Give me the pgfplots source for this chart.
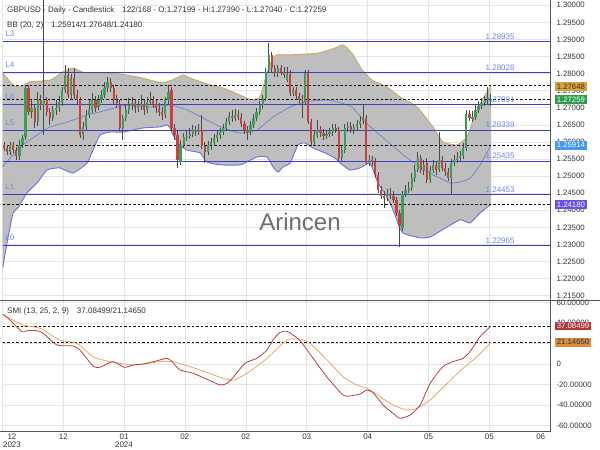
\documentclass[border=0pt]{standalone}
\usepackage{fontspec}
\setmainfont{Liberation Sans}
\usepackage{pgfplots}
\usepackage{pgfplotstable}
\usepgfplotslibrary{fillbetween}
\pgfplotsset{compat=1.18}

\definecolor{upc}{HTML}{3C9E55}
\definecolor{dnc}{HTML}{C9403F}
\definecolor{wickc}{HTML}{4A4A4A}
\definecolor{bbfill}{HTML}{BEBEBE}
\definecolor{bbup}{HTML}{C9A95E}
\definecolor{bblo}{HTML}{6F6FD6}
\definecolor{bbmid}{HTML}{6585C5}
\definecolor{lvl}{HTML}{3E3EC2}
\definecolor{lvltxt}{HTML}{6A88E8}
\definecolor{gridc}{HTML}{E4E4E4}
\definecolor{axc}{HTML}{555555}
\definecolor{smic}{HTML}{B5403F}
\definecolor{sigc}{HTML}{EDA465}
\definecolor{boxor}{HTML}{D6A23C}
\definecolor{boxgr}{HTML}{2E9E4E}
\definecolor{boxbl}{HTML}{3D9BF2}
\definecolor{boxpu}{HTML}{6A4FE8}
\definecolor{boxrd}{HTML}{B23838}
\definecolor{boxortwo}{HTML}{D98E3F}
\definecolor{txt}{HTML}{333333}
\definecolor{wm}{HTML}{6E6E6E}

\pgfplotstableread{
x o h l c
2.5 1.2571 1.2600 1.2562 1.2591
5.5 1.2559 1.2606 1.2547 1.2591
6.5 1.2591 1.2620 1.2582 1.2612
7.5 1.2615 1.2767 1.2606 1.2758
9.5 1.2688 1.2723 1.2670 1.2699
11.5 1.2658 1.2746 1.2647 1.2723
13.5 1.2708 1.3050 1.2620 1.2723
16.5 1.2670 1.2705 1.2661 1.2694
17.5 1.2694 1.2723 1.2679 1.2699
18.5 1.2699 1.2735 1.2688 1.2717
19.5 1.2717 1.2761 1.2705 1.2752
20.5 1.2752 1.2825 1.2743 1.2796
22.5 1.2737 1.2799 1.2723 1.2787
26.5 1.2620 1.2658 1.2606 1.2644
27.5 1.2644 1.2694 1.2635 1.2679
28.5 1.2679 1.2723 1.2670 1.2694
29.5 1.2694 1.2743 1.2685 1.2723
31.5 1.2702 1.2737 1.2694 1.2723
32.5 1.2723 1.2752 1.2714 1.2737
33.5 1.2737 1.2776 1.2729 1.2758
34.5 1.2758 1.2790 1.2746 1.2776
39.5 1.2641 1.2679 1.2606 1.2670
40.5 1.2670 1.2711 1.2661 1.2694
41.5 1.2694 1.2729 1.2682 1.2708
42.5 1.2708 1.2732 1.2694 1.2714
44.5 1.2699 1.2720 1.2688 1.2705
45.5 1.2705 1.2737 1.2694 1.2711
47.5 1.2694 1.2732 1.2685 1.2717
48.5 1.2717 1.2746 1.2708 1.2723
53.5 1.2679 1.2732 1.2670 1.2723
54.5 1.2723 1.2767 1.2711 1.2746
58.5 1.2541 1.2606 1.2533 1.2591
59.5 1.2591 1.2626 1.2582 1.2615
60.5 1.2615 1.2632 1.2603 1.2617
61.5 1.2617 1.2641 1.2609 1.2623
62.5 1.2623 1.2650 1.2615 1.2635
64.5 1.2629 1.2653 1.2620 1.2635
67.5 1.2571 1.2603 1.2562 1.2591
68.5 1.2591 1.2612 1.2576 1.2600
69.5 1.2600 1.2623 1.2588 1.2612
70.5 1.2612 1.2632 1.2600 1.2620
71.5 1.2620 1.2641 1.2609 1.2629
72.5 1.2629 1.2653 1.2620 1.2641
73.5 1.2641 1.2670 1.2632 1.2658
74.5 1.2658 1.2688 1.2650 1.2676
76.5 1.2670 1.2696 1.2661 1.2679
81.5 1.2629 1.2661 1.2620 1.2650
82.5 1.2650 1.2682 1.2641 1.2670
83.5 1.2670 1.2699 1.2661 1.2688
84.5 1.2688 1.2720 1.2679 1.2708
85.5 1.2708 1.2737 1.2696 1.2729
86.5 1.2729 1.2816 1.2720 1.2805
87.5 1.2811 1.2890 1.2802 1.2855
90.5 1.2802 1.2825 1.2790 1.2816
93.5 1.2781 1.2819 1.2776 1.2799
95.5 1.2743 1.2761 1.2735 1.2752
98.5 1.2723 1.2737 1.2670 1.2726
99.5 1.2717 1.2811 1.2708 1.2802
102.5 1.2600 1.2632 1.2591 1.2620
103.5 1.2620 1.2664 1.2612 1.2635
106.5 1.2617 1.2635 1.2609 1.2623
107.5 1.2623 1.2641 1.2615 1.2629
108.5 1.2629 1.2653 1.2617 1.2641
111.5 1.2553 1.2588 1.2544 1.2576
112.5 1.2576 1.2653 1.2568 1.2641
113.5 1.2641 1.2658 1.2629 1.2647
115.5 1.2635 1.2653 1.2623 1.2644
116.5 1.2644 1.2664 1.2635 1.2653
117.5 1.2653 1.2676 1.2641 1.2661
118.5 1.2661 1.2708 1.2653 1.2670
120.5 1.2538 1.2562 1.2530 1.2547
126.5 1.2436 1.2462 1.2427 1.2448
131.5 1.2348 1.2456 1.2339 1.2448
132.5 1.2448 1.2474 1.2439 1.2459
133.5 1.2459 1.2483 1.2451 1.2465
134.5 1.2465 1.2509 1.2456 1.2494
135.5 1.2494 1.2533 1.2483 1.2518
136.5 1.2518 1.2571 1.2512 1.2553
138.5 1.2518 1.2547 1.2503 1.2533
140.5 1.2489 1.2530 1.2480 1.2518
141.5 1.2518 1.2547 1.2509 1.2533
143.5 1.2518 1.2629 1.2512 1.2547
147.5 1.2494 1.2550 1.2445 1.2538
148.5 1.2538 1.2562 1.2530 1.2547
149.5 1.2547 1.2571 1.2538 1.2553
150.5 1.2553 1.2574 1.2541 1.2559
151.5 1.2559 1.2597 1.2550 1.2582
152.5 1.2582 1.2694 1.2574 1.2682
154.5 1.2670 1.2691 1.2658 1.2673
155.5 1.2673 1.2708 1.2664 1.2694
156.5 1.2694 1.2720 1.2685 1.2705
157.5 1.2705 1.2729 1.2696 1.2714
158.5 1.2714 1.2735 1.2705 1.2723
159.5 1.2723 1.2761 1.2711 1.2729
160.5 1.27199 1.27390 1.27040 1.27259
}\upTab

\pgfplotstableread{
x o h l c
0.5 1.2591 1.2600 1.2574 1.2582
1.5 1.2582 1.2591 1.2562 1.2571
3.5 1.2591 1.2600 1.2568 1.2576
4.5 1.2576 1.2585 1.2547 1.2559
8.5 1.2758 1.2767 1.2679 1.2688
10.5 1.2699 1.2708 1.2641 1.2658
12.5 1.2723 1.2737 1.2694 1.2708
14.5 1.2723 1.2732 1.2676 1.2688
15.5 1.2688 1.2699 1.2650 1.2670
21.5 1.2796 1.2816 1.2729 1.2737
23.5 1.2787 1.2816 1.2726 1.2737
24.5 1.2737 1.2752 1.2711 1.2723
25.5 1.2723 1.2732 1.2612 1.2620
30.5 1.2723 1.2735 1.2688 1.2699
35.5 1.2776 1.2787 1.2746 1.2758
36.5 1.2758 1.2767 1.2711 1.2723
37.5 1.2723 1.2737 1.2699 1.2714
38.5 1.2708 1.2723 1.2632 1.2641
43.5 1.2714 1.2726 1.2685 1.2699
46.5 1.2711 1.2723 1.2679 1.2694
49.5 1.2723 1.2735 1.2699 1.2711
50.5 1.2711 1.2723 1.2685 1.2699
51.5 1.2699 1.2714 1.2676 1.2688
52.5 1.2688 1.2702 1.2664 1.2679
55.5 1.2752 1.2761 1.2632 1.2641
56.5 1.2641 1.2653 1.2606 1.2620
57.5 1.2620 1.2632 1.2524 1.2547
63.5 1.2635 1.2647 1.2617 1.2629
65.5 1.2635 1.2679 1.2579 1.2588
66.5 1.2588 1.2600 1.2538 1.2571
75.5 1.2676 1.2694 1.2658 1.2670
77.5 1.2679 1.2694 1.2664 1.2673
78.5 1.2673 1.2685 1.2644 1.2653
79.5 1.2653 1.2661 1.2623 1.2635
80.5 1.2635 1.2647 1.2606 1.2629
88.5 1.2855 1.2863 1.2805 1.2816
89.5 1.2816 1.2825 1.2790 1.2802
91.5 1.2816 1.2825 1.2796 1.2805
92.5 1.2805 1.2819 1.2787 1.2796
94.5 1.2799 1.2811 1.2735 1.2743
96.5 1.2752 1.2761 1.2723 1.2735
97.5 1.2735 1.2743 1.2714 1.2723
100.5 1.2802 1.2811 1.2653 1.2658
101.5 1.2658 1.2667 1.2588 1.2600
104.5 1.2635 1.2647 1.2615 1.2626
105.5 1.2626 1.2638 1.2606 1.2617
109.5 1.2641 1.2653 1.2626 1.2635
110.5 1.2635 1.2644 1.2544 1.2553
114.5 1.2647 1.2658 1.2626 1.2635
119.5 1.2670 1.2679 1.2533 1.2538
121.5 1.2547 1.2559 1.2530 1.2541
122.5 1.2541 1.2553 1.2494 1.2503
123.5 1.2503 1.2512 1.2451 1.2459
124.5 1.2459 1.2471 1.2433 1.2442
125.5 1.2442 1.2456 1.2407 1.2436
127.5 1.2448 1.2465 1.2433 1.2442
128.5 1.2442 1.2456 1.2421 1.2430
129.5 1.2430 1.2439 1.2383 1.2392
130.5 1.2392 1.2401 1.2293 1.2354
137.5 1.2553 1.2562 1.2509 1.2518
139.5 1.2538 1.2553 1.2480 1.2489
142.5 1.2533 1.2544 1.2503 1.2518
144.5 1.2547 1.2559 1.2515 1.2524
145.5 1.2524 1.2538 1.2500 1.2512
146.5 1.2512 1.2524 1.2486 1.2494
153.5 1.2682 1.2694 1.2661 1.2670
}\dnTab

\pgfplotstableread{
x y
0 1.2802
3.4 1.2767
5.7 1.2761
9.0 1.2776
15.6 1.2781
19.8 1.2805
23.1 1.2816
27.1 1.2802
32.0 1.2802
38.6 1.2799
44.5 1.2790
48.5 1.2781
52.4 1.2773
55.7 1.2781
59.3 1.2796
61.6 1.2787
68.2 1.2767
72.5 1.2758
78.1 1.2737
82.0 1.2723
84.6 1.2732
86.9 1.2802
88.6 1.2840
90.2 1.2855
94.5 1.2855
103.7 1.2860
109.3 1.2875
111.9 1.2884
114.9 1.2860
118.2 1.2811
121.5 1.2781
125.8 1.2764
130.7 1.2732
136.3 1.2702
141.5 1.2644
144.8 1.2600
149.4 1.2591
152.7 1.2615
154.7 1.2664
157.7 1.2723
160.6 1.27648
}\bbU

\pgfplotstableread{
x y
0 1.2231
1.4 1.2304
3.4 1.2392
5.0 1.2407
8.0 1.2451
11.3 1.2480
14.6 1.2518
18.8 1.2524
23.1 1.2509
27.7 1.2538
29.7 1.2576
32.0 1.2620
35.3 1.2629
39.6 1.2629
46.2 1.2641
51.7 1.2644
54.0 1.2650
55.0 1.2641
56.0 1.2620
58.3 1.2591
60.6 1.2576
64.9 1.2568
67.2 1.2541
71.5 1.2533
78.1 1.2533
83.6 1.2556
86.9 1.2556
88.9 1.2527
90.6 1.2512
92.2 1.2527
94.5 1.2538
97.1 1.2591
99.4 1.2597
102.1 1.2582
106.0 1.2568
109.3 1.2553
111.0 1.2538
114.2 1.2518
117.5 1.2524
120.8 1.2538
123.4 1.2480
126.4 1.2439
128.4 1.2401
130.0 1.2363
131.7 1.2333
137.3 1.2319
140.6 1.2322
143.9 1.2339
150.4 1.2372
153.7 1.2363
157.0 1.2392
160.6 1.24180
}\bbL

\pgfplotstableread{
x y
0 1.2527
5.7 1.2585
12.3 1.2626
15.6 1.2644
21.2 1.2658
27.7 1.2679
32.0 1.2688
40.9 1.2708
48.5 1.2702
55.0 1.2708
60.6 1.2694
67.2 1.2664
72.5 1.2641
78.1 1.2626
83.6 1.2635
88.9 1.2673
94.5 1.2702
99.4 1.2717
106.0 1.2723
110.3 1.2717
114.9 1.2702
119.2 1.2658
124.1 1.2620
133.0 1.2553
139.6 1.2512
143.9 1.2494
147.2 1.2480
150.4 1.2483
153.7 1.2494
157.0 1.2533
160.6 1.25914
}\bbM

\pgfplotstableread{
x y
0 48.6
2.4 42.8
6.3 31.4
8.0 32.4
11.3 32.4
13.3 29.9
17.9 18.5
23.1 17.5
25.4 13.6
29.7 -1.9
32.0 -3.2
36.3 2.3
39.9 -3.2
42.9 -1.0
46.2 0.0
50.8 3.2
54.0 5.5
55.7 2.3
58.3 -5.8
62.6 -9.0
67.2 -14.9
71.5 -20.4
73.8 -18.8
75.8 -13.0
79.7 0.7
83.6 5.5
86.9 13.6
88.9 23.3
91.2 30.8
93.5 31.8
95.5 28.2
97.8 22.7
102.1 5.5
106.7 -12.9
111.9 -30.2
114.2 -31.1
117.5 -29.2
119.8 -25.3
121.8 -27.9
125.1 -39.9
128.4 -48.0
130.7 -52.9
134.0 -49.6
137.3 -39.9
140.6 -18.8
144.8 -2.6
148.1 2.3
151.4 5.5
153.7 12.0
157.0 26.6
160.6 37.08499
}\smiT

\pgfplotstableread{
x y
0 48.0
6.7 37.9
12.3 34.7
18.8 23.3
24.4 20.1
29.7 7.1
34.3 2.9
42.9 -1.0
51.7 2.3
56.0 2.3
64.9 -5.8
71.5 -12.9
75.8 -15.6
80.4 -9.0
86.9 5.5
93.5 23.3
97.8 24.2
101.1 20.1
106.7 3.9
111.9 -12.3
116.5 -20.4
119.8 -23.7
124.1 -31.8
128.4 -39.9
133.0 -44.8
136.3 -43.1
140.6 -35.0
146.2 -18.8
151.4 -4.2
156.0 7.1
160.6 21.1465
}\sigT

\newcommand{\tfont}{\fontsize{7.8}{9}\selectfont}

\begin{document}
\begin{tikzpicture}[x=1pt,y=1pt]

\begin{axis}[
  at={(2.7pt,150pt)}, anchor=south west,
  scale only axis, width=547.3pt, height=300pt,
  xmin=0, xmax=180, ymin=1.21374, ymax=1.30155,
  xtick={0,20,...,180}, xticklabels={},
  ytick={1.215,1.220,1.225,1.230,1.235,1.240,1.245,1.250,1.255,1.260,1.265,1.270,1.275,1.280,1.285,1.290,1.295,1.300},
  yticklabels={1.21500,1.22000,1.22500,1.23000,1.23500,1.24000,1.24500,1.25000,1.25500,1.26000,1.26500,1.27000,1.27500,1.28000,1.28500,1.29000,1.29500,1.30000},
  yticklabel pos=right,
  yticklabel style={font=\tfont, text=txt, anchor=west, xshift=3pt},
  major tick length=0pt,
  grid=major, grid style={gridc, line width=0.7pt},
  axis line style={draw=none},
  /pgf/number format/assume math mode=true,
]
\addplot[name path=bbu, draw=none, forget plot, smooth, tension=0.3] table[x=x,y=y] {\bbU};
\addplot[name path=bbl, draw=none, forget plot, smooth, tension=0.3] table[x=x,y=y] {\bbL};
\addplot[bbfill, draw=none, forget plot] fill between[of=bbu and bbl];
\addplot[bbmid, line width=0.7pt, smooth, tension=0.3] table[x=x,y=y] {\bbM};
\addplot[bbup, line width=0.9pt, smooth, tension=0.3] table[x=x,y=y] {\bbU};
\addplot[bblo, line width=0.9pt, smooth, tension=0.3] table[x=x,y=y] {\bbL};

% level lines
\addplot[lvl, line width=1.1pt] coordinates {(0,1.28935) (180,1.28935)};
\addplot[lvl, line width=1.1pt] coordinates {(0,1.28028) (180,1.28028)};
\addplot[lvl, line width=1.1pt] coordinates {(0,1.27091) (180,1.27091)};
\addplot[lvl, line width=1.1pt] coordinates {(0,1.26339) (180,1.26339)};
\addplot[lvl, line width=1.1pt] coordinates {(0,1.25435) (180,1.25435)};
\addplot[lvl, line width=1.1pt] coordinates {(0,1.24453) (180,1.24453)};
\addplot[lvl, line width=1.1pt] coordinates {(0,1.22965) (180,1.22965)};

% dashed value lines
\addplot[black, line width=0.6pt, dash pattern=on 2.5pt off 2pt] coordinates {(0,1.27648) (180,1.27648)};
\addplot[black, line width=0.6pt, dash pattern=on 2.5pt off 2pt] coordinates {(0,1.27259) (180,1.27259)};
\addplot[black, line width=0.6pt, dash pattern=on 2.5pt off 2pt] coordinates {(0,1.25914) (180,1.25914)};
\addplot[black, line width=0.6pt, dash pattern=on 2.5pt off 2pt] coordinates {(0,1.24180) (180,1.24180)};

% level labels
\node[lvltxt, anchor=base west, font=\fontsize{8}{9}\selectfont, inner sep=0pt, yshift=5pt] at (axis cs:0.8,1.28935) {L3};
\node[lvltxt, anchor=base west, font=\fontsize{8}{9}\selectfont, inner sep=0pt, yshift=5pt] at (axis cs:0.8,1.28028) {L4};
\node[lvltxt, anchor=base west, font=\fontsize{8}{9}\selectfont, inner sep=0pt, yshift=5pt] at (axis cs:0.8,1.27091) {L6};
\node[lvltxt, anchor=base west, font=\fontsize{8}{9}\selectfont, inner sep=0pt, yshift=5pt] at (axis cs:0.8,1.26339) {L5};
\node[lvltxt, anchor=base west, font=\fontsize{8}{9}\selectfont, inner sep=0pt, yshift=5pt] at (axis cs:0.8,1.24453) {L1};
\node[lvltxt, anchor=base west, font=\fontsize{8}{9}\selectfont, inner sep=0pt, yshift=5pt] at (axis cs:0.8,1.22965) {L0};
\node[lvltxt, anchor=base, font=\fontsize{8}{9}\selectfont, inner sep=0pt, yshift=2.5pt] at (axis cs:163.6,1.28935) {1.28935};
\node[lvltxt, anchor=base, font=\fontsize{8}{9}\selectfont, inner sep=0pt, yshift=2.5pt] at (axis cs:163.6,1.28028) {1.28028};
\node[lvltxt, anchor=base, font=\fontsize{8}{9}\selectfont, inner sep=0pt, yshift=2.5pt] at (axis cs:163.6,1.27091) {1.27091};
\node[lvltxt, anchor=base, font=\fontsize{8}{9}\selectfont, inner sep=0pt, yshift=2.5pt] at (axis cs:163.6,1.26339) {1.26339};
\node[lvltxt, anchor=base, font=\fontsize{8}{9}\selectfont, inner sep=0pt, yshift=2.5pt] at (axis cs:163.6,1.25435) {1.25435};
\node[lvltxt, anchor=base, font=\fontsize{8}{9}\selectfont, inner sep=0pt, yshift=2.5pt] at (axis cs:163.6,1.24453) {1.24453};
\node[lvltxt, anchor=base, font=\fontsize{8}{9}\selectfont, inner sep=0pt, yshift=2.5pt] at (axis cs:163.6,1.22965) {1.22965};

% candles: wicks
\addplot[draw=none, mark=none, forget plot, error bars/.cd, y dir=both, y explicit, error mark=none, error bar style={draw=wickc, line width=0.8pt, solid}]
  table[x=x, y expr=(\thisrow{h}+\thisrow{l})/2, y error expr=(\thisrow{h}-\thisrow{l})/2] {\upTab};
\addplot[draw=none, mark=none, forget plot, error bars/.cd, y dir=both, y explicit, error mark=none, error bar style={draw=wickc, line width=0.8pt, solid}]
  table[x=x, y expr=(\thisrow{h}+\thisrow{l})/2, y error expr=(\thisrow{h}-\thisrow{l})/2] {\dnTab};
% candles: bodies
\addplot[draw=none, mark=none, forget plot, error bars/.cd, y dir=both, y explicit, error mark=none, error bar style={draw=upc, line width=2.2pt, solid}]
  table[x=x, y expr=(\thisrow{o}+\thisrow{c})/2, y error expr=abs(\thisrow{c}-\thisrow{o})/2+0.00005] {\upTab};
\addplot[draw=none, mark=none, forget plot, error bars/.cd, y dir=both, y explicit, error mark=none, error bar style={draw=dnc, line width=2.2pt, solid}]
  table[x=x, y expr=(\thisrow{o}+\thisrow{c})/2, y error expr=abs(\thisrow{c}-\thisrow{o})/2+0.00005] {\dnTab};
\end{axis}

\begin{axis}[
  at={(2.7pt,18.3pt)}, anchor=south west,
  scale only axis, width=547.3pt, height=131pt,
  xmin=0, xmax=180, ymin=-65.9, ymax=61.6,
  xtick={0,20,...,180}, xticklabels={},
  ytick={-60,-40,-20,0,20,40,60},
  yticklabels={-60.00000,-40.00000,-20.00000,0,20.00000,40.00000,60.00000},
  yticklabel pos=right,
  yticklabel style={font=\tfont, text=txt, anchor=west, xshift=3pt},
  major tick length=0pt,
  grid=major, grid style={gridc, line width=0.7pt},
  axis line style={draw=none},
  /pgf/number format/assume math mode=true,
]
\addplot[black, line width=0.6pt, dash pattern=on 2.5pt off 2pt] coordinates {(0,37.08499) (180,37.08499)};
\addplot[black, line width=0.6pt, dash pattern=on 2.5pt off 2pt] coordinates {(0,21.1465) (180,21.1465)};
\addplot[sigc, line width=0.8pt, smooth, tension=0.4] table[x=x,y=y] {\sigT};
\addplot[smic, line width=0.8pt, smooth, tension=0.4] table[x=x,y=y] {\smiT};
\end{axis}

% frame lines
\draw[axc, line width=0.8pt] (550,18.3) -- (550,450);
\draw[axc, line width=0.8pt] (0,149.3) -- (600,149.3);
\draw[axc, line width=0.8pt] (0,18.3) -- (550,18.3);

% watermark
\node[wm, font=\fontsize{24}{28}\selectfont] at (300,228) {Arincen};

% titles
\node[anchor=west, inner sep=0pt, text=txt, font=\fontsize{8}{9}\selectfont] at (7,440) {GBPUSD - Daily - Candlestick\hspace{8pt}122/168 - O:1.27199 - H:1.27390 - L:1.27040 - C:1.27259};
\node[anchor=west, inner sep=0pt, text=txt, font=\fontsize{8}{9}\selectfont] at (7,425) {BB (20, 2)\hspace{8pt}1.25914/1.27648/1.24180};
\node[anchor=west, inner sep=0pt, text=txt, font=\fontsize{8}{9}\selectfont] at (7,139) {SMI (13, 25, 2, 9)\hspace{8pt}37.08499/21.14650};

% right-side value boxes
\node[fill=boxor, text=txt, font=\tfont, inner sep=1.6pt, anchor=west] at (555,363.5) {1.27648};
\node[fill=boxgr, text=white, font=\tfont, inner sep=1.6pt, anchor=west] at (555,350.5) {1.27259};
\node[fill=boxbl, text=white, font=\tfont, inner sep=1.6pt, anchor=west] at (555,304.7) {1.25914};
\node[fill=boxpu, text=white, font=\tfont, inner sep=1.6pt, anchor=west] at (555,245.4) {1.24180};
\node[fill=boxrd, text=white, font=\tfont, inner sep=1.6pt, anchor=west] at (555,124) {37.08499};
\node[fill=boxortwo, text=txt, font=\tfont, inner sep=1.6pt, anchor=west] at (555,107.7) {21.14650};

% x labels
\begin{scope}[every node/.style={font=\fontsize{8}{9}\selectfont, text=txt, inner sep=0pt}]
\node at (12,13.3) {12};
\node at (12,5) {2023};
\node at (63.3,13.3) {12};
\node at (124,13.3) {01};
\node at (124,5) {2024};
\node at (184.7,13.3) {02};
\node at (245.7,13.3) {02};
\node at (306.7,13.3) {03};
\node at (367.7,13.3) {04};
\node at (428.5,13.3) {05};
\node at (489.3,13.3) {05};
\node at (540.7,13.3) {06};
\end{scope}

\pgfresetboundingbox
\useasboundingbox (0,0) rectangle (600,450);
\end{tikzpicture}
\end{document}
